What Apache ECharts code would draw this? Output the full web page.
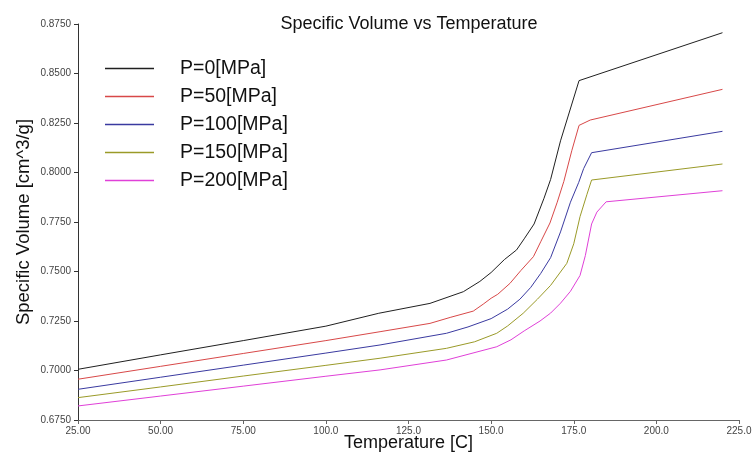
<!DOCTYPE html>
<html><head><meta charset="utf-8">
<script src="https://cdn.jsdelivr.net/npm/echarts@6/dist/echarts.min.js"></script>
<style>html,body{margin:0;padding:0;background:#fff}#c{width:754px;height:454px}</style>
</head><body><div id="c"></div>
<script>
const seriesNames = ['P=0[MPa]','P=50[MPa]','P=100[MPa]','P=150[MPa]','P=200[MPa]'];
const seriesColors = ['#202020','#d84848','#3a3aa0','#9a9a28','#e040d8'];
const p0 = [[25,0.7006],[50,0.7079],[75,0.7151],[100,0.7224],[116,0.7289],[131.5,0.7339],[141.6,0.7398],[146.6,0.7450],[150,0.7495],[154,0.7560],[157.7,0.7609],[160,0.7665],[163,0.7740],[166,0.7870],[168,0.7965],[171,0.8160],[176.6,0.8464],[220,0.8706]];
const p50 = [[25,0.6956],[50,0.7021],[75,0.7086],[100,0.7151],[116.4,0.7196],[131.5,0.7238],[137.6,0.7268],[144.6,0.7300],[147.6,0.7335],[150,0.7365],[152,0.7385],[155.7,0.7440],[159,0.7505],[162.8,0.7575],[165,0.7650],[167.8,0.7745],[170,0.7850],[172,0.7955],[174.4,0.8110],[176.6,0.8238],[180,0.8265],[220,0.8420]];
const p100 = [[25,0.6905],[50,0.6966],[75,0.7027],[100,0.7088],[116.4,0.7129],[136.5,0.7188],[143,0.7220],[150,0.7262],[155,0.7310],[158.7,0.7360],[162,0.7420],[165,0.7490],[168,0.7570],[171,0.7700],[174,0.7850],[176.5,0.7950],[178,0.8020],[180.4,0.8100],[220,0.8208]];
const p150 = [[25,0.6863],[50,0.6917],[75,0.6972],[100,0.7026],[116.4,0.7062],[136.5,0.7112],[145,0.7145],[151.7,0.7188],[155,0.7225],[159.7,0.7289],[164,0.7360],[168,0.7430],[172.9,0.7541],[175,0.7640],[176.9,0.7777],[179,0.7890],[180.4,0.7962],[220,0.8043]];
const p200 = [[25,0.6821],[50,0.6871],[75,0.6921],[100,0.6971],[116.4,0.7003],[136.5,0.7053],[151.7,0.7120],[156,0.7155],[160,0.7200],[164.8,0.7250],[168,0.7290],[171,0.7340],[174,0.7400],[176.9,0.7480],[178.5,0.7580],[180.4,0.7740],[182,0.7800],[184.8,0.7852],[220,0.7908]];
const allData = [p0,p50,p100,p150,p200];

const chart = echarts.init(document.getElementById('c'));
const font = '"Liberation Sans", Arial, sans-serif';
chart.setOption({
  animation:false,
  backgroundColor:'#fff',
  title:{text:'Specific Volume vs Temperature',left:404,textAlign:'center',top:10,
    textStyle:{fontFamily:font,fontSize:18,fontWeight:'normal',color:'#111'}},
  legend:{orient:'vertical',left:100,top:51,itemWidth:49,itemHeight:1.5,itemGap:3,icon:'rect',
    textStyle:{fontFamily:font,fontSize:19.5,lineHeight:18,color:'#111',padding:[0,0,7,21]},
    data:seriesNames},
  grid:{left:78,right:15,top:24,bottom:34,containLabel:false,outerBoundsMode:'none'},
  xAxis:{type:'value',min:25,max:225,interval:25,name:'Temperature [C]',nameLocation:'middle',nameGap:14,nameMoveOverlap:false,
    nameTextStyle:{fontFamily:font,fontSize:18,color:'#111'},
    axisLine:{lineStyle:{color:'#666'}},axisTick:{length:4,lineStyle:{color:'#666'}},
    axisLabel:{fontFamily:font,fontSize:10,color:'#444',margin:6,formatter:v=>Number(v).toPrecision(4)},
    splitLine:{show:false}},
  yAxis:{type:'value',min:0.675,max:0.875,interval:0.025,name:'Specific Volume [cm^3/g]',nameLocation:'middle',nameGap:45,nameMoveOverlap:false,
    nameTextStyle:{fontFamily:font,fontSize:18.5,color:'#111'},
    axisLine:{show:true,lineStyle:{color:'#333'}},axisTick:{show:true,length:4,lineStyle:{color:'#333'}},
    axisLabel:{fontFamily:font,fontSize:10,color:'#444',margin:7,formatter:v=>Number(v).toFixed(4)},
    splitLine:{show:false}},
  series: allData.map((d,i)=>({name:seriesNames[i],type:'line',data:d,showSymbol:false,symbol:'none',
    lineStyle:{width:1,color:seriesColors[i]},itemStyle:{color:seriesColors[i]}}))
});
</script></body></html>
